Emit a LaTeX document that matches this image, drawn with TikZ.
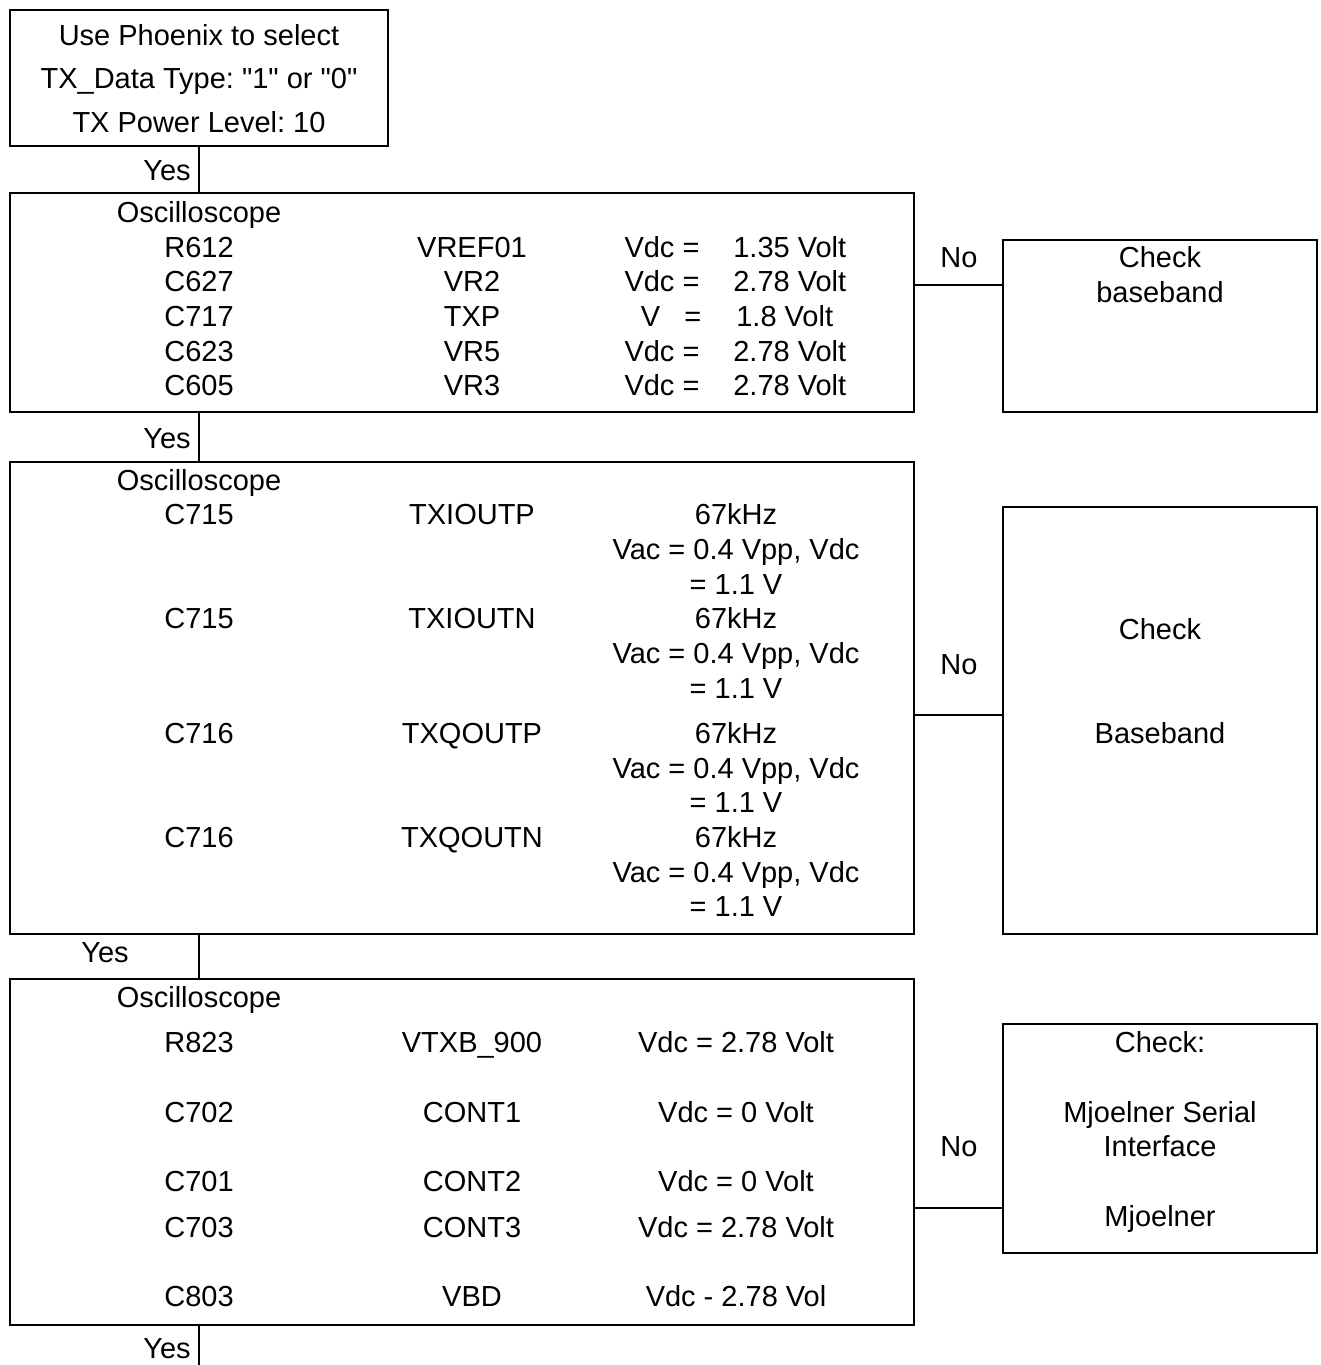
\documentclass[tikz,border=0pt]{standalone}
\usepackage{fontspec}
\newfontfamily\labelfont{Liberation Sans}
\frenchspacing
\begin{document}
\begin{tikzpicture}[x=0.02cm, y=-0.02cm, font=\labelfont\fontsize{16.5}{20}\selectfont]
        \tikzstyle{box}=[draw, line width=0.8pt, rectangle, inner sep=0pt, outer sep=0pt]
        \tikzstyle{txt}=[inner sep=0pt, text height=11.8pt, text depth=0pt]
        \tikzstyle{link}=[line width=0.8pt]
        \useasboundingbox (0,0) rectangle (1320,1365);
        % start
        \node[box, minimum width=7.56cm, minimum height=2.72cm] (setup) at (199,78) {};
        \node[txt] (s1) at (199,35) {Use Phoenix to select};
        \node[txt] (s2) at (199,78) {TX\_Data Type: "1" or "0"};
        \node[txt] (s3) at (199,122) {TX Power Level: 10};
        % first oscilloscope check
        \node[box, minimum width=18.08cm, minimum height=4.38cm] (osc1) at (462,302.5) {};
        \node[txt] (osc1t) at (199,212) {Oscilloscope};
        \node[txt] (r612) at (199,247) {R612};
        \node[txt] (vref) at (472,247) {VREF01};
        \node[txt] (eq1) at (662,247) {Vdc =};
        \node[txt, anchor=west] (v1) at (733,247) {1.35 Volt};
        \node[txt] (c627) at (199,281) {C627};
        \node[txt] (vr2) at (472,281) {VR2};
        \node[txt] (eq2) at (662,281) {Vdc =};
        \node[txt, anchor=west] (v2) at (733,281) {2.78 Volt};
        \node[txt] (c717) at (199,316) {C717};
        \node[txt] (txp) at (472,316) {TXP};
        \node[txt] (eq3) at (671,316) {V\ \ \ =};
        \node[txt, anchor=west] (v3) at (736,316) {1.8 Volt};
        \node[txt] (c623) at (199,351) {C623};
        \node[txt] (vr5) at (472,351) {VR5};
        \node[txt] (eq4) at (662,351) {Vdc =};
        \node[txt, anchor=west] (v4) at (733,351) {2.78 Volt};
        \node[txt] (c605) at (199,385) {C605};
        \node[txt] (vr3) at (472,385) {VR3};
        \node[txt] (eq5) at (662,385) {Vdc =};
        \node[txt, anchor=west] (v5) at (733,385) {2.78 Volt};
        \node[box, minimum width=6.28cm, minimum height=3.44cm] (chk1) at (1160,326) {};
        \node[txt] (chk1a) at (1160,257) {Check};
        \node[txt] (chk1b) at (1160,292) {baseband};
        % second oscilloscope check
        \node[box, minimum width=18.08cm, minimum height=9.44cm] (osc2) at (462,698) {};
        \node[txt] (osc2t) at (199,480) {Oscilloscope};
        \node[txt] (c715a) at (199,514) {C715};
        \node[txt] (txip) at (472,514) {TXIOUTP};
        \node[txt] (f1) at (736,514) {67kHz};
        \node[txt] (a1) at (736,549) {Vac = 0.4 Vpp, Vdc};
        \node[txt] (d1) at (736,584) {= 1.1 V};
        \node[txt] (c715b) at (199,618) {C715};
        \node[txt] (txin) at (472,618) {TXIOUTN};
        \node[txt] (f2) at (736,618) {67kHz};
        \node[txt] (a2) at (736,653) {Vac = 0.4 Vpp, Vdc};
        \node[txt] (d2) at (736,688) {= 1.1 V};
        \node[txt] (c716a) at (199,733) {C716};
        \node[txt] (txqp) at (472,733) {TXQOUTP};
        \node[txt] (f3) at (736,733) {67kHz};
        \node[txt] (a3) at (736,768) {Vac = 0.4 Vpp, Vdc};
        \node[txt] (d3) at (736,802) {= 1.1 V};
        \node[txt] (c716b) at (199,837) {C716};
        \node[txt] (txqn) at (472,837) {TXQOUTN};
        \node[txt] (f4) at (736,837) {67kHz};
        \node[txt] (a4) at (736,872) {Vac = 0.4 Vpp, Vdc};
        \node[txt] (d4) at (736,906) {= 1.1 V};
        \node[box, minimum width=6.28cm, minimum height=8.54cm] (chk2) at (1160,720.5) {};
        \node[txt] (chk2a) at (1160,629) {Check};
        \node[txt] (chk2b) at (1160,733) {Baseband};
        % third oscilloscope check
        \node[box, minimum width=18.08cm, minimum height=6.92cm] (osc3) at (462,1152) {};
        \node[txt] (osc3t) at (199,997) {Oscilloscope};
        \node[txt] (r823) at (199,1042) {R823};
        \node[txt] (vtxb) at (472,1042) {VTXB\_900};
        \node[txt] (w1) at (736,1042) {Vdc = 2.78 Volt};
        \node[txt] (c702) at (199,1112) {C702};
        \node[txt] (cont1) at (472,1112) {CONT1};
        \node[txt] (w2) at (736,1112) {Vdc = 0 Volt};
        \node[txt] (c701) at (199,1181) {C701};
        \node[txt] (cont2) at (472,1181) {CONT2};
        \node[txt] (w3) at (736,1181) {Vdc = 0 Volt};
        \node[txt] (c703) at (199,1227) {C703};
        \node[txt] (cont3) at (472,1227) {CONT3};
        \node[txt] (w4) at (736,1227) {Vdc = 2.78 Volt};
        \node[txt] (c803) at (199,1296) {C803};
        \node[txt] (vbd) at (472,1296) {VBD};
        \node[txt] (w5) at (736,1296) {Vdc - 2.78 Vol};
        \node[box, minimum width=6.28cm, minimum height=4.58cm] (chk3) at (1160,1138.5) {};
        \node[txt] (chk3a) at (1160,1042) {Check:};
        \node[txt] (chk3b) at (1160,1112) {Mjoelner Serial};
        \node[txt] (chk3c) at (1160,1146) {Interface};
        \node[txt] (chk3d) at (1160,1216) {Mjoelner};
        % connectors
        \coordinate (no1) at (914,285);
        \coordinate (no2) at (914,715);
        \coordinate (no3) at (914,1208);
        \coordinate (tail) at (199,1365);
        \draw[link] (setup.south) -- (setup.south |- osc1.north);
        \draw[link] (osc1.south -| setup.south) -- (setup.south |- osc2.north);
        \draw[link] (osc2.south -| setup.south) -- (setup.south |- osc3.north);
        \draw[link] (osc3.south -| setup.south) -- (tail);
        \draw[link] (no1) -- (no1 -| chk1.west);
        \draw[link] (no2) -- (no2 -| chk2.west);
        \draw[link] (no3) -- (no3 -| chk3.west);
        \node[txt] (yes1) at (167,170) {Yes};
        \node[txt] (yes2) at (167,438) {Yes};
        \node[txt] (yes3) at (105,952) {Yes};
        \node[txt] (yes4) at (167,1348) {Yes};
        \node[txt] (no1t) at (959,257) {No};
        \node[txt] (no2t) at (959,664) {No};
        \node[txt] (no3t) at (959,1146) {No};
    \end{tikzpicture}
\end{document}
